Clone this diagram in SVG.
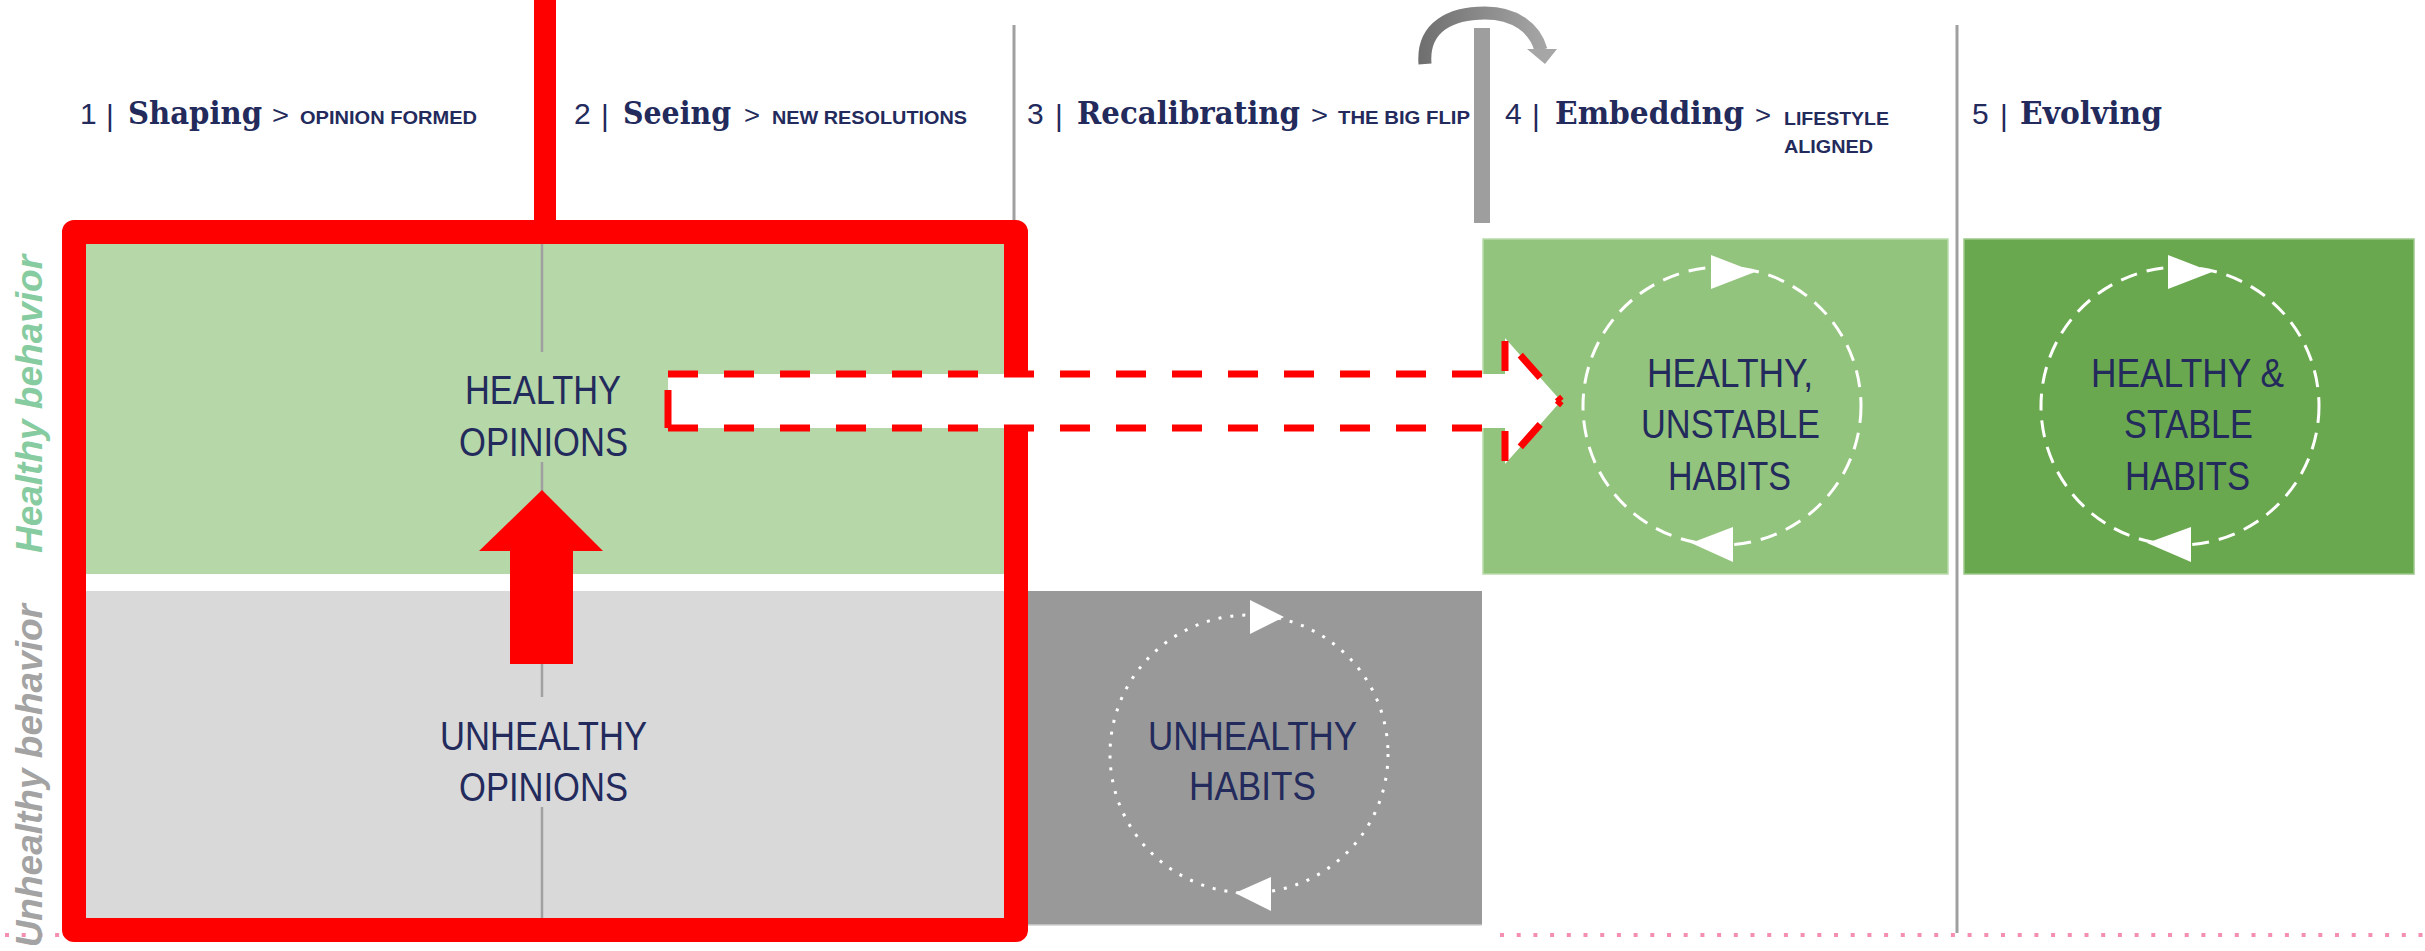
<svg xmlns="http://www.w3.org/2000/svg" width="2425" height="951" viewBox="0 0 2425 951">
<defs>
<style>
.num{font-family:"Liberation Sans",Arial,sans-serif;font-size:30px;fill:#232A5C}
.ttl{font-family:"DejaVu Serif","Liberation Serif",serif;font-weight:bold;font-size:31px;fill:#232A5C}
.gt{font-family:"Liberation Sans",Arial,sans-serif;font-size:26px;fill:#232A5C}
.sub{font-family:"Liberation Sans",Arial,sans-serif;font-weight:bold;font-size:18px;fill:#232A5C}
.lbl{font-family:"Liberation Sans",Arial,sans-serif;font-size:41px;fill:#232A5C}
.side{font-family:"Liberation Sans",Arial,sans-serif;font-weight:bold;font-style:italic;font-size:37px}
.sep{stroke:#A0A0A0;stroke-width:3;fill:none}
.thin{stroke:#A0A0A0;stroke-width:2.5;fill:none}
.cyc{fill:none;stroke:#FFFFFF;stroke-width:3;stroke-dasharray:17 10}
.dot{fill:none;stroke:#FFFFFF;stroke-width:3;stroke-dasharray:3 9}
.tri{fill:#FFFFFF}
.pink{stroke:#F48FB1;stroke-width:4;stroke-dasharray:4 12.7;fill:none}
</style>
<linearGradient id="flipGrad" gradientUnits="userSpaceOnUse" x1="1418" y1="0" x2="1557" y2="0">
<stop offset="0" stop-color="#6E6E6E"/>
<stop offset="1" stop-color="#ABABAB"/>
</linearGradient>
</defs>
<rect x="0" y="0" width="2425" height="951" fill="#FFFFFF"/>

<g id="guides">
<line class="pink" x1="5" y1="935" x2="60" y2="935"/>
<line class="pink" x1="1500" y1="935" x2="2425" y2="935"/>
<line class="sep" x1="1014" y1="25" x2="1014" y2="930"/>
<line class="sep" x1="1957" y1="25" x2="1957" y2="933"/>
</g>

<g id="headers">
<g id="col1">
<text class="num" x="80" y="124">1</text>
<text class="num" x="106" y="126">|</text>
<text class="ttl" x="128" y="124" textLength="134" lengthAdjust="spacingAndGlyphs">Shaping</text>
<text class="gt" x="272" y="124" textLength="17" lengthAdjust="spacingAndGlyphs">&gt;</text>
<text class="sub" x="300" y="124" textLength="177" lengthAdjust="spacingAndGlyphs">OPINION FORMED</text>
</g>
<g id="col2">
<text class="num" x="574" y="124">2</text>
<text class="num" x="601" y="126">|</text>
<text class="ttl" x="623" y="124" textLength="108" lengthAdjust="spacingAndGlyphs">Seeing</text>
<text class="gt" x="744" y="124" textLength="16" lengthAdjust="spacingAndGlyphs">&gt;</text>
<text class="sub" x="772" y="124" textLength="195" lengthAdjust="spacingAndGlyphs">NEW RESOLUTIONS</text>
</g>
<g id="col3">
<text class="num" x="1027" y="124">3</text>
<text class="num" x="1055" y="126">|</text>
<text class="ttl" x="1077" y="124" textLength="223" lengthAdjust="spacingAndGlyphs">Recalibrating</text>
<text class="gt" x="1311" y="124" textLength="17" lengthAdjust="spacingAndGlyphs">&gt;</text>
<text class="sub" x="1338" y="124" textLength="132" lengthAdjust="spacingAndGlyphs">THE BIG FLIP</text>
</g>
<g id="col4">
<text class="num" x="1505" y="124">4</text>
<text class="num" x="1532" y="126">|</text>
<text class="ttl" x="1555" y="124" textLength="189" lengthAdjust="spacingAndGlyphs">Embedding</text>
<text class="gt" x="1755" y="124" textLength="16" lengthAdjust="spacingAndGlyphs">&gt;</text>
<text class="sub" x="1784" y="125" textLength="105" lengthAdjust="spacingAndGlyphs">LIFESTYLE</text>
<text class="sub" x="1784" y="153" textLength="89" lengthAdjust="spacingAndGlyphs">ALIGNED</text>
</g>
<g id="col5">
<text class="num" x="1972" y="124">5</text>
<text class="num" x="2000" y="126">|</text>
<text class="ttl" x="2020" y="124" textLength="142" lengthAdjust="spacingAndGlyphs">Evolving</text>
</g>
</g>

<g id="row-labels">
<text class="side" fill="#87CBA0" text-anchor="middle" transform="translate(42,404) rotate(-90)">Healthy behavior</text>
<text class="side" fill="#A3A3A3" text-anchor="end" transform="translate(42,604) rotate(-90)">Unhealthy behavior</text>
</g>

<g id="healthy-opinions">
<rect x="74" y="232" width="942" height="342" fill="#B6D7A8"/>
<line class="thin" x1="542" y1="243" x2="542" y2="352"/>
<line class="thin" x1="542" y1="462" x2="542" y2="552"/>
<text class="lbl" x="465" y="404" textLength="156" lengthAdjust="spacingAndGlyphs">HEALTHY</text>
<text class="lbl" x="459" y="456" textLength="169" lengthAdjust="spacingAndGlyphs">OPINIONS</text>
</g>
<g id="unhealthy-opinions">
<rect x="74" y="591" width="942" height="339" fill="#D9D9D9"/>
<line class="thin" x1="542" y1="660" x2="542" y2="697"/>
<line class="thin" x1="542" y1="807" x2="542" y2="918"/>
<text class="lbl" x="440" y="750" textLength="207" lengthAdjust="spacingAndGlyphs">UNHEALTHY</text>
<text class="lbl" x="459" y="801" textLength="169" lengthAdjust="spacingAndGlyphs">OPINIONS</text>
</g>

<g id="unhealthy-habits">
<rect x="1028" y="591" width="454" height="334" fill="#999999"/>
<line x1="1028" y1="925" x2="1482" y2="925" stroke="#CFCFCF" stroke-width="1.5"/>
<circle class="dot" cx="1249" cy="754" r="139"/>
<polygon class="tri" points="1250,600 1284,617 1250,634"/>
<polygon class="tri" points="1271,877 1235,893 1271,911"/>
<text class="lbl" x="1148" y="750" textLength="209" lengthAdjust="spacingAndGlyphs">UNHEALTHY</text>
<text class="lbl" x="1189" y="800" textLength="127" lengthAdjust="spacingAndGlyphs">HABITS</text>
</g>
<g id="healthy-unstable-habits">
<rect x="1483" y="239" width="465" height="335" fill="#93C47D" stroke="#B9DBAA" stroke-width="1.5"/>
<circle class="cyc" cx="1722" cy="406" r="139"/>
<polygon class="tri" points="1711,255 1755,272 1711,289"/>
<polygon class="tri" points="1733,527 1691,543 1733,562"/>
<text class="lbl" x="1647" y="387" textLength="166" lengthAdjust="spacingAndGlyphs">HEALTHY,</text>
<text class="lbl" x="1641" y="438" textLength="179" lengthAdjust="spacingAndGlyphs">UNSTABLE</text>
<text class="lbl" x="1668" y="490" textLength="123" lengthAdjust="spacingAndGlyphs">HABITS</text>
</g>
<g id="healthy-stable-habits">
<rect x="1964" y="239" width="450" height="335" fill="#6AA84F" stroke="#9CC98A" stroke-width="1.5"/>
<circle class="cyc" cx="2180" cy="406" r="139"/>
<polygon class="tri" points="2168,255 2212,272 2168,289"/>
<polygon class="tri" points="2191,527 2147,543 2191,562"/>
<text class="lbl" x="2091" y="387" textLength="193" lengthAdjust="spacingAndGlyphs">HEALTHY &amp;</text>
<text class="lbl" x="2124" y="438" textLength="129" lengthAdjust="spacingAndGlyphs">STABLE</text>
<text class="lbl" x="2125" y="490" textLength="125" lengthAdjust="spacingAndGlyphs">HABITS</text>
</g>

<g id="connectors">
<line x1="545" y1="0" x2="545" y2="222" stroke="#FF0000" stroke-width="22"/>
<path d="M74,232 H1016 V930 H74 Z" fill="none" stroke="#FF0000" stroke-width="24" stroke-linejoin="round"/>
<polygon points="542,490 603,551 573,551 573,664 510,664 510,551 479,551" fill="#FF0000"/>
<polygon points="668,374 1505,374 1505,338 1561,401 1505,464 1505,428 668,428" fill="#FFFFFF"/>
<path d="M668,374 H1505 V338 L1561,401" fill="none" stroke="#FF0000" stroke-width="7" stroke-dasharray="30 26"/>
<path d="M668,428 H1505 V464 L1561,401" fill="none" stroke="#FF0000" stroke-width="7" stroke-dasharray="30 26"/>
<path d="M668,428 V374" fill="none" stroke="#FF0000" stroke-width="7" stroke-dasharray="38 30"/>
<rect x="1474" y="28" width="16" height="195" fill="#9E9E9E"/>
<path d="M1425,64 C1422,26 1452,13 1485,13 C1515,13 1535,28 1541,50" fill="none" stroke="url(#flipGrad)" stroke-width="13"/>
<polygon points="1527,49 1557,49 1545,64" fill="#A6A6A6"/>
</g>
</svg>
